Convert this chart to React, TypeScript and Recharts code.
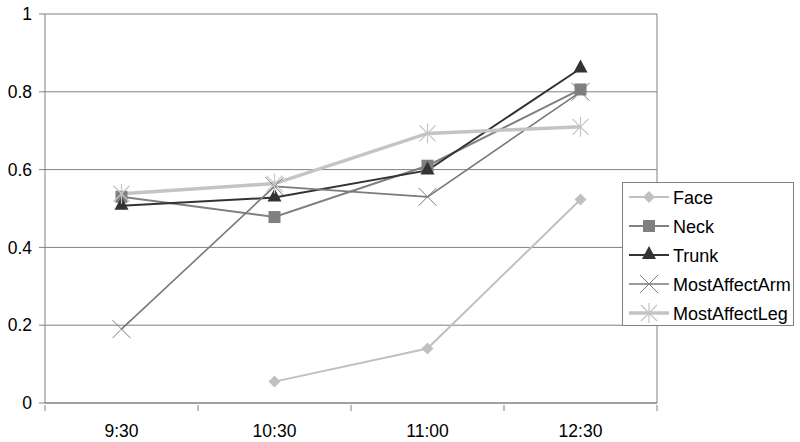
import React from 'react';
import { LineChart, Line, XAxis, YAxis, CartesianGrid, Legend, ReferenceLine } from 'recharts';

const categories = ['9:30', '10:30', '11:00', '12:30'];
const face = [null, 0.055, 0.14, 0.523];
const neck = [0.53, 0.478, 0.61, 0.806];
const trunk = [0.507, 0.528, 0.598, 0.86];
const mostAffectArm = [0.19, 0.557, 0.53, 0.8];
const mostAffectLeg = [0.538, 0.564, 0.693, 0.71];
const yTicks = [0, 0.2, 0.4, 0.6, 0.8, 1];
const xTicks = [0, 0.5, 1, 1.5, 2, 2.5, 3, 3.5, 4];

const FONT = 'Liberation Sans, Arial, sans-serif';
const AXIS = '#808080';

const series = [
  { key: 'Face', values: face, color: '#c0c0c0', width: 2, shape: 'diamond' },
  { key: 'Neck', values: neck, color: '#808080', width: 2, shape: 'square' },
  { key: 'Trunk', values: trunk, color: '#333333', width: 2, shape: 'triangle' },
  { key: 'MostAffectArm', values: mostAffectArm, color: '#7a7a7a', width: 1.6, shape: 'x' },
  { key: 'MostAffectLeg', values: mostAffectLeg, color: '#c4c4c4', width: 3.5, shape: 'star' },
];

const data = categories.map((label, i) => {
  const row: any = { pos: i + 0.5, label };
  series.forEach((s) => { row[s.key] = s.values[i]; });
  return row;
});

const Marker = ({ shape, cx, cy, color }: any) => {
  switch (shape) {
    case 'diamond':
      return <polygon points={`${cx},${cy - 6} ${cx + 6},${cy} ${cx},${cy + 6} ${cx - 6},${cy}`} fill={color} />;
    case 'square':
      return <rect x={cx - 6} y={cy - 6} width={12} height={12} fill={color} />;
    case 'triangle':
      return <polygon points={`${cx},${cy - 9} ${cx + 7},${cy + 4} ${cx - 7},${cy + 4}`} fill={color} />;
    case 'x':
      return (
        <g stroke={color} strokeWidth={1}>
          <line x1={cx - 9} y1={cy - 9} x2={cx + 9} y2={cy + 9} />
          <line x1={cx - 9} y1={cy + 9} x2={cx + 9} y2={cy - 9} />
        </g>
      );
    case 'star':
      return (
        <g stroke={color} strokeWidth={1.2}>
          <line x1={cx - 8} y1={cy - 8} x2={cx + 8} y2={cy + 8} />
          <line x1={cx - 8} y1={cy + 8} x2={cx + 8} y2={cy - 8} />
          <line x1={cx} y1={cy - 10} x2={cx} y2={cy + 10} />
        </g>
      );
    default:
      return null;
  }
};

const makeDot = (shape: string, color: string) => (props: any) => {
  const { cx, cy, value, index } = props;
  if (value == null || cx == null || cy == null || isNaN(cy)) return <g key={index} />;
  return <g key={index}><Marker shape={shape} cx={cx} cy={cy} color={color} /></g>;
};

const XTick = (props: any) => {
  const { x, y, payload } = props;
  const v = payload.value;
  if (Number.isInteger(v)) {
    return <line x1={x} y1={y} x2={x} y2={y + 6} stroke={AXIS} strokeWidth={1} />;
  }
  return (
    <text x={x} y={y + 32} textAnchor="middle" fontFamily={FONT} fontSize={17.5} fill="#000">
      {categories[Math.floor(v)]}
    </text>
  );
};

const LegendBox = () => (
  <div style={{ width: 172, height: 144, border: '1px solid #808080', background: '#fff', boxSizing: 'border-box' }}>
    <svg width={170} height={142}>
      {series.map((s, i) => {
        const y = 14 + i * 29;
        return (
          <g key={s.key}>
            <line x1={6} y1={y} x2={46} y2={y} stroke={s.color} strokeWidth={s.width} />
            <Marker shape={s.shape} cx={26} cy={y} color={s.color} />
            <text x={50} y={y + 6.5} fontFamily={FONT} fontSize={18} fill="#000">{s.key}</text>
          </g>
        );
      })}
    </svg>
  </div>
);

export default function App() {
  return (
    <div style={{ position: 'fixed', left: 0, top: 0, width: 800, height: 442, background: '#fff' }}>
      <LineChart width={800} height={442} data={data} margin={{ top: 14, right: 143, bottom: 0, left: 0 }}>
        <CartesianGrid vertical={false} stroke={AXIS} strokeWidth={1} />
        <XAxis
          dataKey="pos"
          type="number"
          domain={[0, 4]}
          ticks={xTicks}
          interval={0}
          height={39}
          tickSize={0}
          tickLine={false}
          stroke={AXIS}
          tick={<XTick />}
        />
        <YAxis
          domain={[0, 1]}
          ticks={yTicks}
          width={45}
          stroke={AXIS}
          tickSize={6}
          tickMargin={7}
          tick={{ fill: '#000', fontSize: 17.5, fontFamily: FONT }}
        />
        <ReferenceLine x={4} stroke={AXIS} strokeWidth={1} />
        {series.map((s) => (
          <Line
            key={s.key}
            dataKey={s.key}
            stroke={s.color}
            strokeWidth={s.width}
            dot={makeDot(s.shape, s.color)}
            activeDot={false}
            isAnimationActive={false}
          />
        ))}
        <Legend
          layout="horizontal"
          verticalAlign="middle"
          align="center"
          wrapperStyle={{ position: 'absolute', left: 622, top: 182, width: 172, height: 144 }}
          content={() => <LegendBox />}
        />
      </LineChart>
    </div>
  );
}
